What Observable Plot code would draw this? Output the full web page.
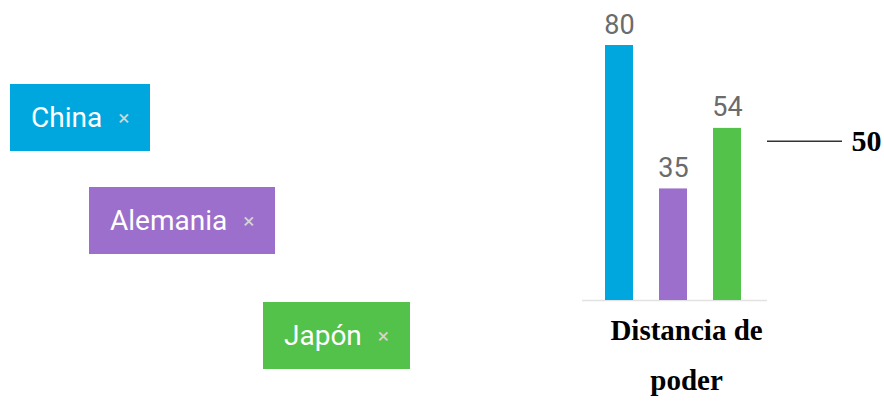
<!DOCTYPE html>
<html>
<head>
<meta charset="utf-8">
<script src="https://cdn.jsdelivr.net/npm/d3@7"></script>
<script src="https://cdn.jsdelivr.net/npm/@observablehq/plot@0.6"></script>
<style>
  html, body { margin: 0; padding: 0; background: #fff; }
  #wrap { position: relative; width: 884px; height: 405px; overflow: hidden; }
  #wrap svg { position: absolute; left: 0; top: 0; }
  .tag { position: absolute; height: 67px; box-sizing: border-box; display: flex; align-items: center;
         padding: 0 21px; font-family: Roboto, sans-serif; font-size: 28px; color: #fff; white-space: nowrap; }
  .tag .x { color: #d4d4d4; font-size: 21px; margin-left: 16px; }
</style>
</head>
<body>
<div id="wrap"></div>
<script>
const countries = ["China", "Alemania", "Japón"];
const values = [80, 35, 54];
const colors = ["#00a7df", "#9b6fcb", "#53c24a"];
const referenceValue = [50];
const dimensionLabel = ["Distancia de\npoder"];

const data = countries.map((c, i) => ({country: c, value: values[i]}));

const chart = Plot.plot({
  width: 884,
  height: 405,
  marginLeft: 579,
  marginRight: 116,
  marginTop: 45,
  marginBottom: 105,
  style: {background: "transparent", overflow: "visible"},
  x: {type: "band", domain: countries, padding: 0.475, axis: null},
  y: {domain: [0, 80], axis: null},
  color: {domain: countries, range: colors},
  marks: [
    Plot.ruleY([0], {stroke: "#e2e2e2", strokeWidth: 1.5, insetLeft: 3, insetRight: 1}),
    Plot.barY(data, {x: "country", y: "value", fill: "country"}),
    Plot.text(data, {x: "country", y: "value", text: d => String(d.value), lineAnchor: "bottom", dy: -12,
      fontSize: 27, fill: "#6b6b6b", fontFamily: "Roboto, sans-serif"}),
    Plot.ruleY(referenceValue, {y: d => d, stroke: "#333", strokeWidth: 1.5, insetLeft: 188, insetRight: -74}),
    Plot.text(referenceValue, {y: d => d, text: d => String(d), frameAnchor: "right", textAnchor: "start", dx: 83,
      fontSize: 30, fontWeight: "bold", fontFamily: "Liberation Serif, Times New Roman, serif", fill: "#000"}),
    Plot.text(dimensionLabel, {frameAnchor: "bottom", text: d => d, lineAnchor: "top", dy: 4, dx: 12.5,
      lineHeight: 1.72, fontSize: 29, fontWeight: "bold", fontFamily: "Liberation Serif, Times New Roman, serif", fill: "#000"})
  ]
});

const wrap = document.getElementById("wrap");
wrap.appendChild(chart);

const tagPos = [[10, 84], [89, 187], [263, 302]];
countries.forEach((c, i) => {
  const t = document.createElement("div");
  t.className = "tag";
  t.style.left = tagPos[i][0] + "px";
  t.style.top = tagPos[i][1] + "px";
  t.style.background = colors[i];
  t.innerHTML = `<span>${c}</span><span class="x">×</span>`;
  wrap.appendChild(t);
});
</script>
</body>
</html>
